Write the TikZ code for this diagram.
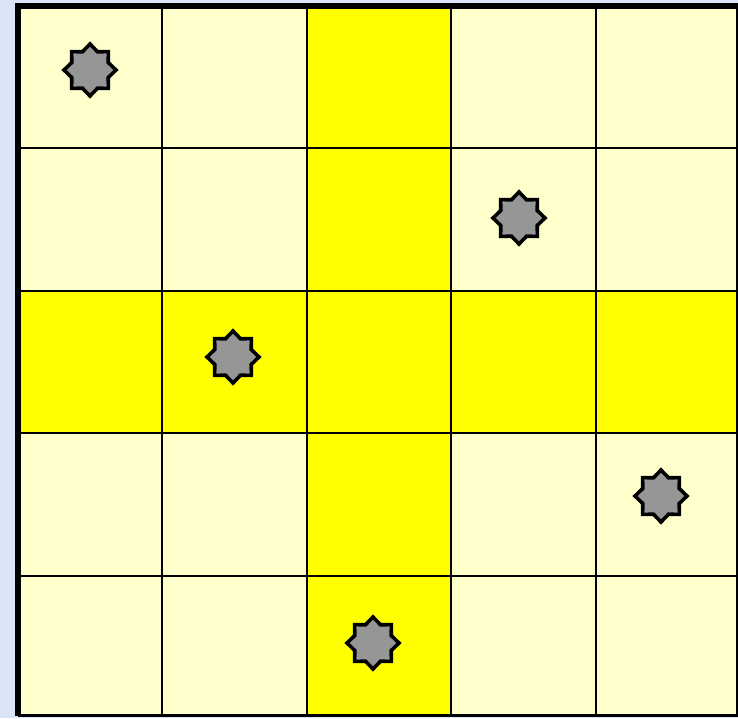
\documentclass[tikz,border=0pt]{standalone}
\usetikzlibrary{shapes.geometric}
\definecolor{bgblue}{HTML}{DAE6F6}
\definecolor{paleyellow}{HTML}{FFFFCC}
\definecolor{brightyellow}{HTML}{FFFF00}
\definecolor{stargray}{HTML}{969696}
\tikzset{
  pale/.style={fill=paleyellow},
  bright/.style={fill=brightyellow},
  gridline/.style={draw=black, line width=2.4pt},
  starmark/.style={star, star points=8, star point ratio=1.32, minimum size=52pt, inner sep=0pt,
    draw=black, line width=3.6pt, fill=stargray},
}
\begin{document}
\begin{tikzpicture}[x=1pt,y=-1pt]
\useasboundingbox (0,0) rectangle (738,718);
\fill[bgblue] (0,0) rectangle (738,718);
% cells
\def\xs{{18,162,307,451,596,740}}
\def\ys{{6,148,291,433,576,716}}
\foreach \i in {0,...,4}{
  \foreach \j in {0,...,4}{
    \pgfmathsetmacro{\xa}{\xs[\i]}
    \pgfmathsetmacro{\xb}{\xs[\i+1]}
    \pgfmathsetmacro{\ya}{\ys[\j]}
    \pgfmathsetmacro{\yb}{\ys[\j+1]}
    \ifnum\i=2 \def\cs{bright}\else\ifnum\j=2 \def\cs{bright}\else\def\cs{pale}\fi\fi
    \path[\cs] (\xa,\ya) rectangle (\xb,\yb);
  }
}
% grid lines
\foreach \x in {162,307,451,596}{ \draw[gridline] (\x,6) -- (\x,716); }
\foreach \y in {148,291,433,576}{ \draw[gridline] (18,\y) -- (738,\y); }
\draw[gridline] (737,6) -- (737,716);
\draw[gridline] (18,715.5) -- (738,715.5);
% thick outer border (left, top)
\draw[black, line width=6pt] (18,716) -- (18,6) -- (738,6);
% stars
\node[starmark] (s1) at (90,70) {};
\node[starmark] (s2) at (519,218) {};
\node[starmark] (s3) at (233,357) {};
\node[starmark] (s4) at (661,496) {};
\node[starmark] (s5) at (373,643) {};
\end{tikzpicture}
\end{document}
